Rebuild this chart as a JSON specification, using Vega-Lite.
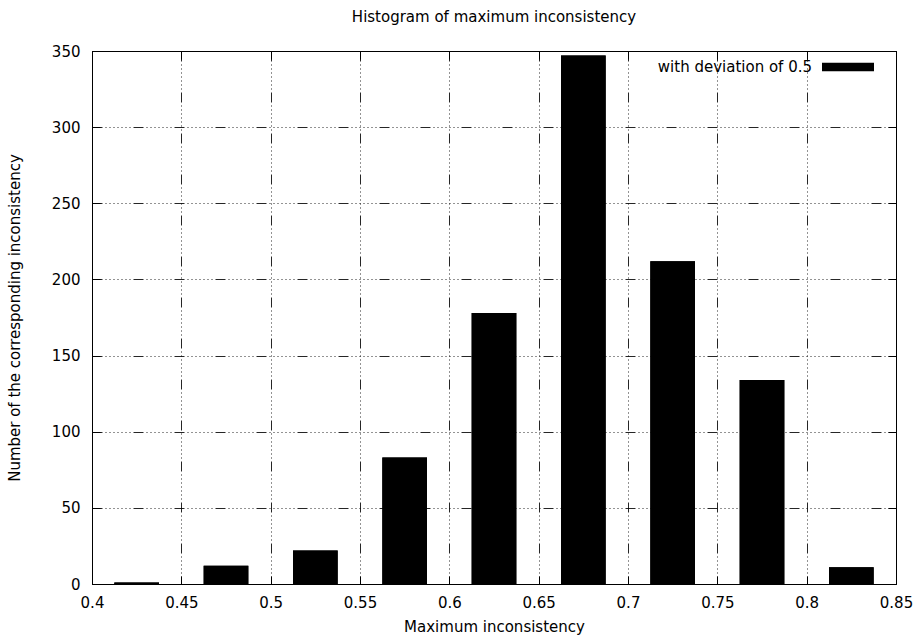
{
  "$schema": "https://vega.github.io/schema/vega-lite/v6.json",
  "autosize": {"type": "none"},
  "width": 804,
  "height": 533,
  "padding": {"left": 92, "top": 51, "right": 19, "bottom": 53},
  "background": "white",
  "title": {
    "text": "Histogram of maximum inconsistency",
    "font": "DejaVu Sans",
    "fontSize": 15,
    "fontWeight": "normal",
    "color": "black",
    "anchor": "middle",
    "baseline": "alphabetic",
    "offset": 4
  },
  "config": {
    "view": {"stroke": "black", "strokeWidth": 1},
    "axis": {
      "labelFont": "DejaVu Sans",
      "labelFontSize": 15,
      "labelColor": "black",
      "titleFont": "DejaVu Sans",
      "titleFontSize": 15,
      "titleFontWeight": "normal",
      "titleColor": "black",
      "domainColor": "black",
      "tickColor": "black",
      "tickSize": -8,
      "tickWidth": 1,
      "gridColor": "black",
      "gridOpacity": 0.85,
      "gridWidth": 1,
      "gridDash": [10, 3, 1, 3, 1, 3, 1, 3, 1, 3, 1, 3, 1, 3, 1, 3]
    }
  },
  "data": {
    "values": [
      {"lo": 0.4125, "hi": 0.4375, "count": 1, "series": "with deviation of 0.5"},
      {"lo": 0.4625, "hi": 0.4875, "count": 12, "series": "with deviation of 0.5"},
      {"lo": 0.5125, "hi": 0.5375, "count": 22, "series": "with deviation of 0.5"},
      {"lo": 0.5625, "hi": 0.5875, "count": 83, "series": "with deviation of 0.5"},
      {"lo": 0.6125, "hi": 0.6375, "count": 178, "series": "with deviation of 0.5"},
      {"lo": 0.6625, "hi": 0.6875, "count": 347, "series": "with deviation of 0.5"},
      {"lo": 0.7125, "hi": 0.7375, "count": 212, "series": "with deviation of 0.5"},
      {"lo": 0.7625, "hi": 0.7875, "count": 134, "series": "with deviation of 0.5"},
      {"lo": 0.8125, "hi": 0.8375, "count": 11, "series": "with deviation of 0.5"}
    ]
  },
  "layer": [
    {
      "mark": {"type": "bar", "stroke": null, "opacity": 1},
      "encoding": {
        "x": {
          "field": "lo", "type": "quantitative",
          "scale": {"domain": [0.4, 0.85], "nice": false, "zero": false},
          "axis": {
            "orient": "bottom",
            "title": "Maximum inconsistency",
            "values": [0.4, 0.45, 0.5, 0.55, 0.6, 0.65, 0.7, 0.75, 0.8, 0.85],
            "format": "~g",
            "grid": true,
            "labelPadding": 19,
            "titlePadding": 9,
            "labelFlush": false
          }
        },
        "x2": {"field": "hi"},
        "y": {
          "field": "count", "type": "quantitative",
          "scale": {"domain": [0, 350], "nice": false, "zero": true},
          "axis": {
            "orient": "left",
            "title": "Number of the corresponding inconsistency",
            "values": [0, 50, 100, 150, 200, 250, 300, 350],
            "format": "d",
            "grid": true,
            "labelPadding": 20,
            "titlePadding": 29,
            "labelFlush": false
          }
        },
        "y2": {"datum": 0},
        "color": {
          "field": "series", "type": "nominal",
          "scale": {"range": ["black"]},
          "legend": {
            "title": null,
            "orient": "none",
            "legendX": 730,
            "legendY": -10,
            "padding": 0,
            "symbolType": "M-1,-0.16H1V0.16H-1Z",
            "symbolSize": 2704,
            "symbolFillColor": "black",
            "symbolStrokeWidth": 0,
            "symbolOpacity": 1,
            "labelAlign": "right",
            "labelOffset": -62,
            "labelFont": "DejaVu Sans",
            "labelFontSize": 15,
            "labelColor": "black",
            "labelLimit": 400
          }
        }
      }
    },
    {
      "mark": {"type": "bar", "stroke": null, "opacity": 1},
      "encoding": {
        "x": {
          "field": "lo", "type": "quantitative",
          "axis": {
            "orient": "top",
            "title": null,
            "values": [0.4, 0.45, 0.5, 0.55, 0.6, 0.65, 0.7, 0.75, 0.8, 0.85],
            "labels": false,
            "grid": false
          }
        },
        "x2": {"field": "hi"},
        "y": {
          "field": "count", "type": "quantitative",
          "axis": {
            "orient": "right",
            "title": null,
            "values": [0, 50, 100, 150, 200, 250, 300, 350],
            "labels": false,
            "grid": false
          }
        },
        "y2": {"datum": 0},
        "color": {"field": "series", "type": "nominal"}
      }
    }
  ],
  "resolve": {"axis": {"x": "independent", "y": "independent"}}
}
